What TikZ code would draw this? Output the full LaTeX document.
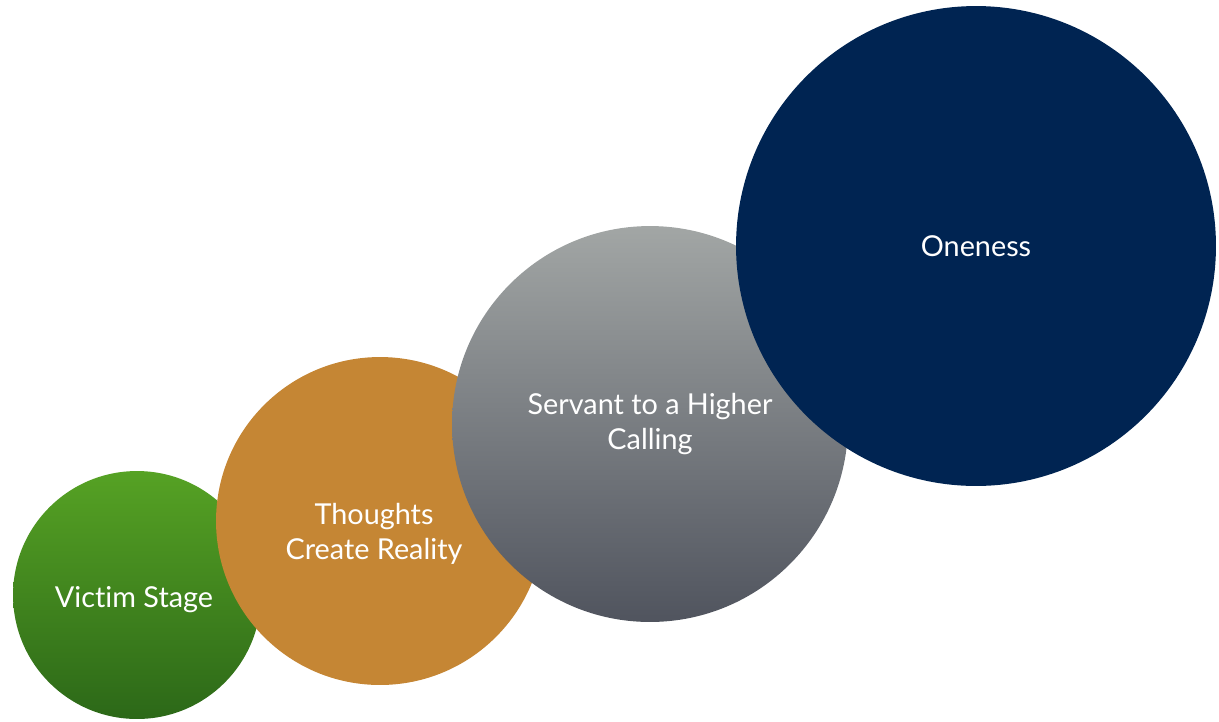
\documentclass[tikz,border=0pt]{standalone}
\usepackage{fontspec}
\setmainfont[Ligatures=NoCommon]{Lato}
\usepackage{tikz}
\definecolor{victimtop}{RGB}{86,162,36}
\definecolor{victimbot}{RGB}{44,104,24}
\definecolor{thoughtcol}{RGB}{197,134,52}
\definecolor{servanttop}{RGB}{162,166,165}
\definecolor{servantbot}{RGB}{80,84,94}
\definecolor{onecol}{RGB}{0,36,82}

\begin{document}
\begin{tikzpicture}[x=0.02cm,y=-0.02cm,
		stage/.style={circle, inner sep=0pt, minimum size=#1},
		lbl/.style={text=white, align=center, font=\fontsize{16.4}{19.8}\selectfont}]
			\useasboundingbox (0,0) rectangle (1219,721);
			\node[stage=4.96cm, top color=victimtop, bottom color=victimbot] (victim) at (137,595) {};
			\node[stage=6.56cm, fill=thoughtcol] (thought) at (380,521) {};
			\node[stage=7.92cm, top color=servanttop, bottom color=servantbot] (servant) at (650,424) {};
			\node[stage=9.6cm, fill=onecol] (one) at (976,246) {};
			\node[lbl] (victim-t) at ([xshift=-0.06cm,yshift=-0.1cm]victim) {Victim Stage};
			\node[lbl] (thought-t) at ([xshift=-0.12cm,yshift=-0.26cm]thought) {Thoughts\\Create Reality};
			\node[lbl] (servant-t) at (servant) {Servant to a Higher\\Calling};
			\node[lbl] (one-t) at (one) {Oneness};
		\end{tikzpicture}
\end{document}
